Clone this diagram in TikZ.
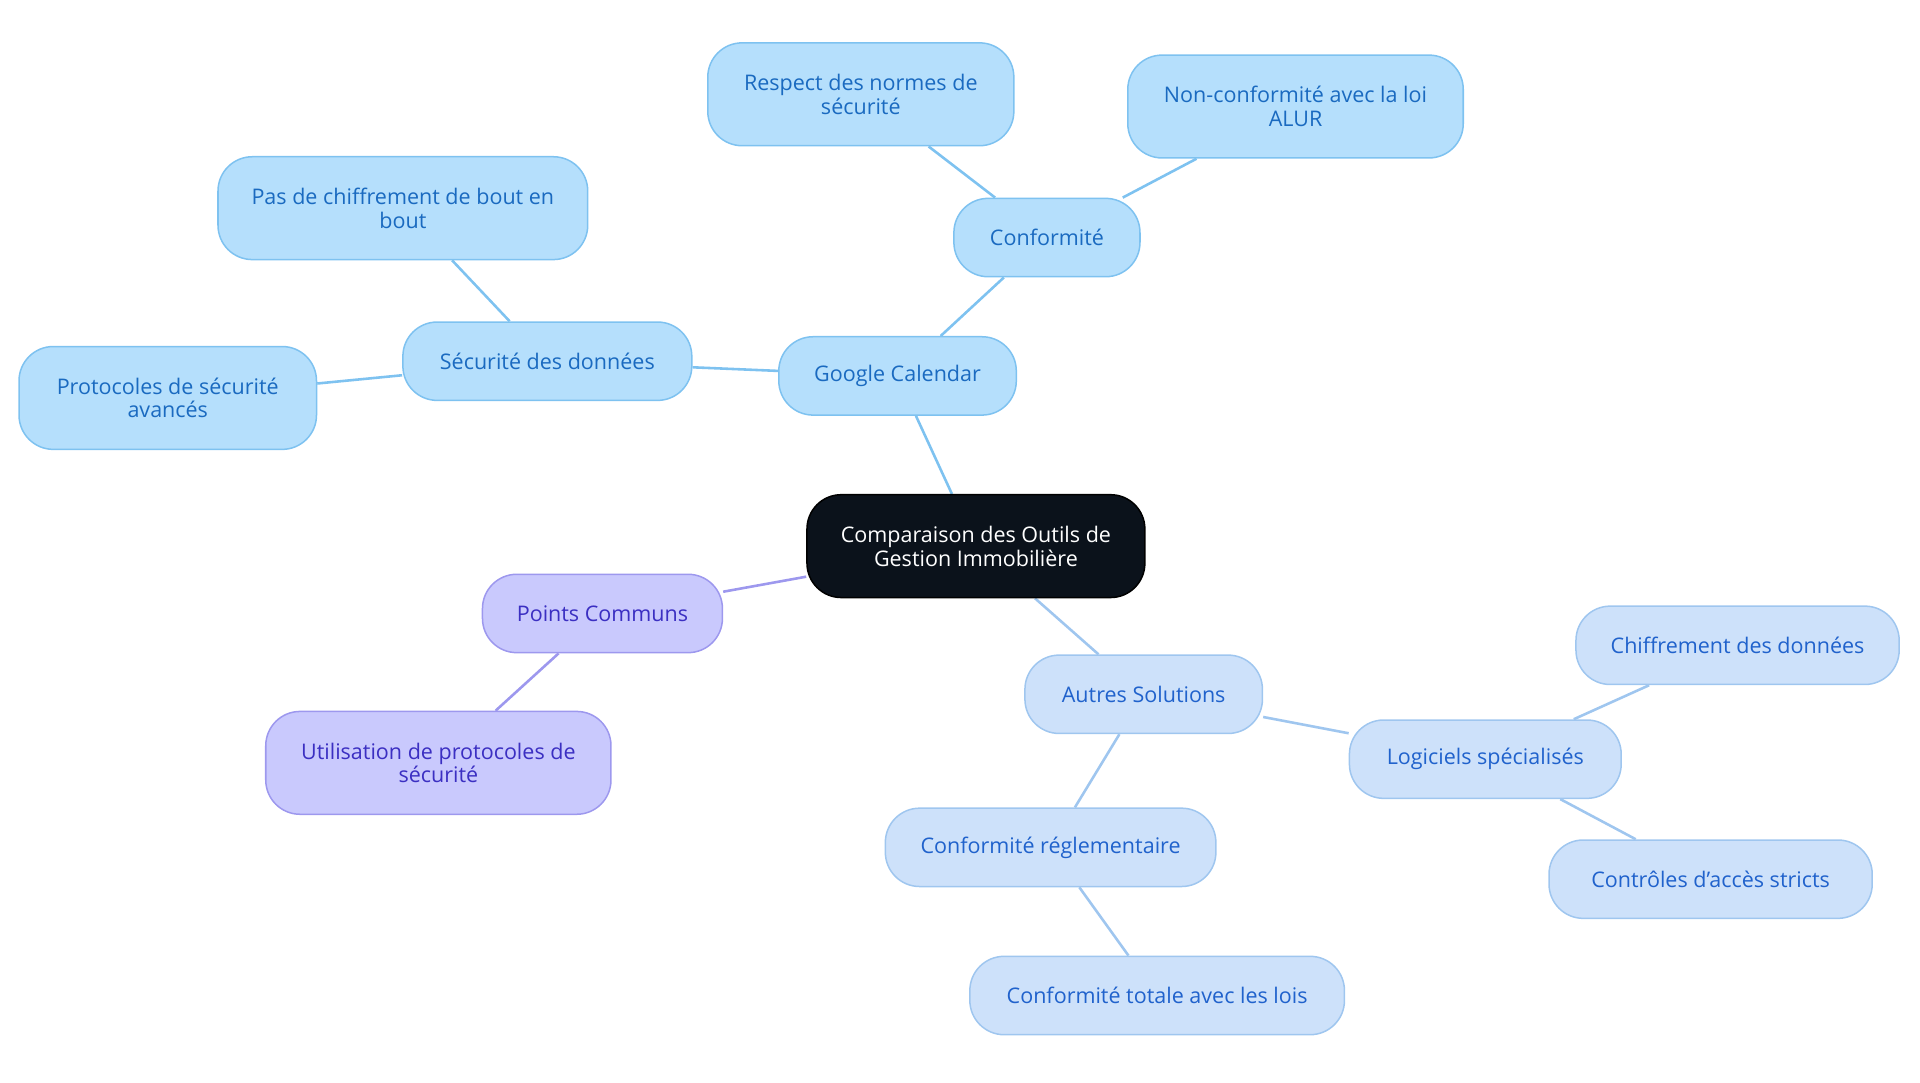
\documentclass[tikz,border=0pt]{standalone}
\usepackage{fontspec}
\setmainfont{Open Sans}
\usetikzlibrary{backgrounds}
\definecolor{rootfill}{HTML}{0B121B}
\definecolor{gfill}{HTML}{B5DFFC}
\definecolor{gline}{HTML}{7EC2F0}
\definecolor{gtext}{HTML}{1A6AC0}
\definecolor{afill}{HTML}{CDE1FA}
\definecolor{aline}{HTML}{9FC6EF}
\definecolor{atext}{HTML}{2062CC}
\definecolor{pfill}{HTML}{C9C9FD}
\definecolor{pline}{HTML}{9D98EE}
\definecolor{ptext}{HTML}{3B2FC2}
\tikzset{
  box/.style={rounded corners=0.56cm, line width=0.7pt, align=center,
    font=\fontsize{10}{11}\selectfont, minimum height=1.28cm, inner sep=2pt},
  root/.style={box, fill=rootfill, draw=black, text=white, minimum height=1.68cm},
  gbox/.style={box, fill=gfill, draw=gline, text=gtext},
  abox/.style={box, fill=afill, draw=aline, text=atext},
  pbox/.style={box, fill=pfill, draw=pline, text=ptext},
  tall/.style={minimum height=1.68cm},
  gedge/.style={draw=gline, line width=1.2pt},
  aedge/.style={draw=aline, line width=1.2pt},
  pedge/.style={draw=pline, line width=1.2pt}
}
\begin{document}
\begin{tikzpicture}[x=0.02cm,y=-0.02cm]
\useasboundingbox (0,0) rectangle (1568,884);
% root
\node[root, minimum width=5.52cm] (cmp) at (797,446) {Comparaison des Outils de\\Gestion Immobilière};
% Google Calendar branch
\node[gbox, minimum width=3.88cm] (gcal) at (733,307) {Google Calendar};
\node[gbox, minimum width=3.04cm] (conf) at (855,194) {Conformité};
\node[gbox, tall, minimum width=5.0cm] (norm) at (703,77) {Respect des normes de\\sécurité};
\node[gbox, tall, minimum width=5.48cm] (alur) at (1058,87) {Non-conformité avec la loi\\ALUR};
\node[gbox, minimum width=4.72cm] (secu) at (447,295) {Sécurité des données};
\node[gbox, tall, minimum width=6.04cm] (chif) at (329,170) {Pas de chiffrement de bout en\\bout};
\node[gbox, tall, minimum width=4.86cm] (prot) at (137,325) {Protocoles de sécurité\\avancés};
% Points Communs branch
\node[pbox, minimum width=3.92cm] (comm) at (492,501) {Points Communs};
\node[pbox, tall, minimum width=5.64cm] (util) at (358,623) {Utilisation de protocoles de\\sécurité};
% Autres Solutions branch
\node[abox, minimum width=3.88cm] (autr) at (934,567) {Autres Solutions};
\node[abox, minimum width=4.44cm] (logi) at (1213,620) {Logiciels spécialisés};
\node[abox, minimum width=5.28cm] (cdon) at (1419,527) {Chiffrement des données};
\node[abox, minimum width=5.28cm] (acce) at (1397,718) {Contrôles d'accès stricts};
\node[abox, minimum width=5.4cm] (regl) at (858,692) {Conformité réglementaire};
\node[abox, minimum width=6.12cm] (loi) at (945,813) {Conformité totale avec les lois};
% connectors
\begin{scope}[on background layer]
\draw[gedge] (cmp) -- (gcal);
\draw[gedge] (gcal) -- (conf);
\draw[gedge] (conf) -- (norm);
\draw[gedge] (conf) -- (alur);
\draw[gedge] (gcal) -- (secu);
\draw[gedge] (secu) -- (chif);
\draw[gedge] (secu) -- (prot);
\draw[pedge] (cmp) -- (comm);
\draw[pedge] (comm) -- (util);
\draw[aedge] (cmp) -- (autr);
\draw[aedge] (autr) -- (logi);
\draw[aedge] (logi) -- (cdon);
\draw[aedge] (logi) -- (acce);
\draw[aedge] (autr) -- (regl);
\draw[aedge] (regl) -- (loi);
\end{scope}
\end{tikzpicture}
\end{document}
